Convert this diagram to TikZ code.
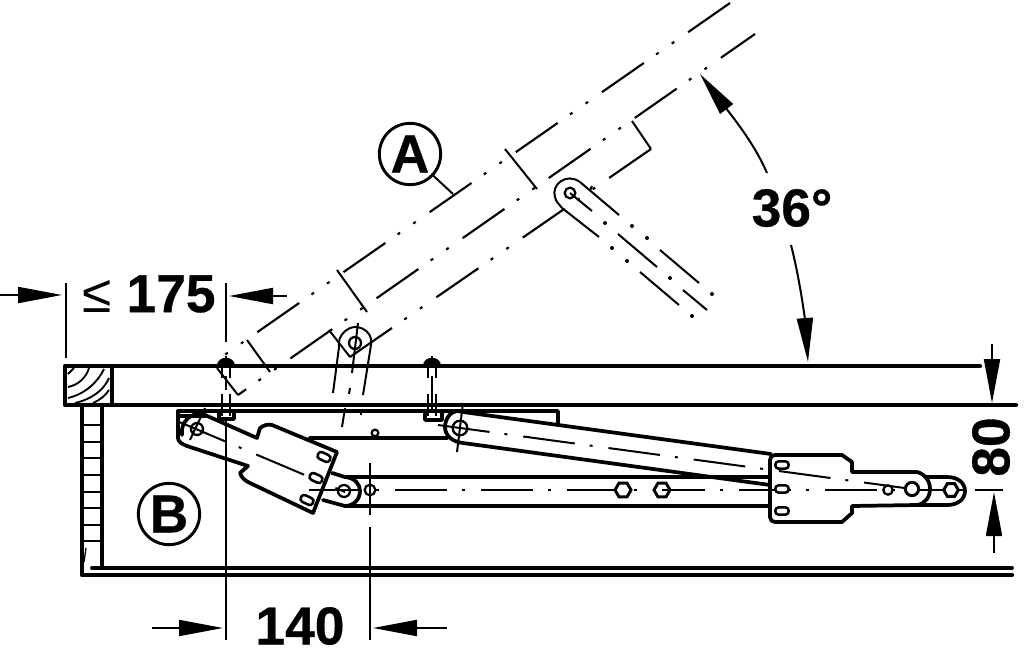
\documentclass[tikz,border=0pt]{standalone}
\usepackage{fontspec}
\setmainfont{Liberation Sans}[BoldFeatures={FakeBold=0.6}]
\usetikzlibrary{arrows.meta,shapes.geometric}

\tikzset{every picture/.style={line width=0.75pt},
  heavyline/.style={line width=3.2pt,line cap=round,line join=round},
  partline/.style={line width=2.8pt,line cap=round,line join=round},
  thinline/.style={line width=1.5pt},
  centerline/.style={line width=1.5pt,dash pattern=on 39pt off 11.25pt on 2.25pt off 12pt},
  phantomline/.style={line width=1.6pt,dash pattern=on 38.25pt off 11.25pt on 2.25pt off 12pt on 2.25pt off 12.75pt},
  dimarrow/.style={line width=1.5pt,-{Triangle[length=33pt,width=12pt]}},
  dimtext/.style={font=\fontsize{40}{40}\selectfont\bfseries,inner sep=0pt},
  letterring/.style={draw,circle,line width=2.2pt,minimum size=46pt,inner sep=0pt,font=\fontsize{40}{40}\selectfont\bfseries},
  hexnut/.style={draw,fill=white,regular polygon,regular polygon sides=6,line width=2.2pt,minimum size=12pt,inner sep=0pt},
  slothole/.style={draw,fill=white,rounded corners=2.5pt,line width=1.9pt,minimum width=10pt,minimum height=5.5pt,inner sep=0pt},
  pinhole/.style={draw,fill=white,circle,line width=1.7pt,inner sep=0pt},
  pivotring/.style={draw,circle,line width=1.7pt,inner sep=0pt}}

\begin{document}
\begin{tikzpicture}[x=0.75pt,y=0.75pt,yscale=-1,xscale=1]
\useasboundingbox (0,0) rectangle (1025,650);

%Shape: Table top
\draw [heavyline] (980,366) -- (65,366) -- (65,405) -- (1016,405) ;
\draw [heavyline] (112,366) -- (112,405) ;
%Wood section
\draw [line width=1.4pt] (68,374) .. controls (70,372) and (72,370) .. (74,368) ;
\draw [line width=1.4pt] (68,387) .. controls (78,385) and (86,378) .. (89,368) ;
\draw [line width=1.4pt] (68,398) .. controls (85,394) and (98,382) .. (104,369) ;
\draw [line width=1.4pt] (75,403) .. controls (92,399) and (104,390) .. (109,378) ;
\draw [line width=1.4pt] (93,403) .. controls (100,400) and (106,395) .. (109,390) ;

%Shape: Cabinet side and bottom
\draw [heavyline] (82,405) -- (82,575) -- (1012,575) ;
\draw [heavyline] (102,405) -- (102,566) ;
\draw [partline] (92,568) -- (1012,568) ;
%Straight Lines: ladder
\draw [thinline] (84,425) -- (101,425) ;
\draw [thinline] (84,442) -- (101,442) ;
\draw [thinline] (84,458) -- (101,458) ;
\draw [thinline] (84,475) -- (101,475) ;
\draw [thinline] (84,492) -- (101,492) ;
\draw [thinline] (84,508) -- (101,508) ;
\draw [thinline] (84,525) -- (101,525) ;
\draw [thinline] (84,541) -- (101,541) ;
\draw [line width=1pt] (86,548) -- (84,562) ;

%Shape: Mounting bracket
\draw [partline] (178,411) -- (558,411) -- (558,425) ;
\draw [partline] (178,411) -- (178,438) .. controls (178,442) and (182,444) .. (187,446) ;
\draw [partline] (180,416) -- (205,416) ;
\draw [partline] (310,438) -- (447,438) ;
\node [pinhole,minimum size=5pt] (bracketHole) at (375,433) {};

%Screws
\fill (217,366) .. controls (217,355) and (235,355) .. (235,366) -- cycle ;
\fill (423,366) .. controls (423,355) and (441,355) .. (441,366) -- cycle ;
\draw [thinline] (222,368) -- (222,378) (230,368) -- (230,378) ;
\draw [thinline] (428,368) -- (428,378) (436,368) -- (436,378) ;
\draw [thinline] (432,356) -- (432,360) (432,376) -- (432,412) ;
\draw [thinline] (226,356) -- (226,360) (226,376) -- (226,390) ;
\draw [thinline] (222,394) -- (222,416) (230,394) -- (230,416) ;
\draw [thinline] (428,394) -- (428,416) (436,394) -- (436,416) ;
\draw [partline] (219,413) -- (219,419) -- (234,419) -- (234,413) ;
\draw [partline] (425,413) -- (425,420) -- (442,420) -- (442,413) ;

%Panel lines, open position
\draw [phantomline,dash phase=38.25pt] (213,363) -- (730,3) ;
\draw [phantomline,dash phase=30.75pt] (238,395) -- (755,34) ;
\draw [phantomline] (350,357) -- (651,149) ;
\draw [thinline] (217,368) -- (238,395) ;
\draw [thinline] (329,330) -- (350,357) ;
\draw [thinline] (632,121) -- (651,149) ;
\draw [thinline] (247,340) -- (270,372) ;
\draw [thinline] (337,270) -- (367,312) ;
\draw [thinline] (505,149) -- (537,189) ;

%Fitting arm, open position
\draw [thinline] (339,347) .. controls (337,335) and (348,327) .. (355,327) .. controls (364,327) and (373,334) .. (371,345) ;
\draw [thinline] (339,347) -- (333,393) ;
\draw [thinline] (371,345) -- (363,395) ;
\draw [thinline] (358,323) -- (352,373) ;
\draw [thinline] (350,388) -- (349,394) ;
\draw [thinline] (345,408) -- (342,427) ;
\draw [thinline] (361,412) -- (361,415) ;
\node [pivotring,minimum size=9pt] (armEyeLow) at (355,343) {};
\draw [thinline] (580,182) -- (619,215) ;
\draw [thinline] (562,208) -- (599,237) ;
\draw [thinline] (580,182) .. controls (566,172) and (551,185) .. (555,197) .. controls (556,202) and (559,204) .. (562,208) ;
\draw [thinline] (570,193) -- (592,211) ;
\draw [thinline] (592,186) -- (590,190) ;
\node [pivotring,minimum size=8pt] (armEyeHigh) at (570,193) {};
\draw [thinline] (618,234) -- (657,267) ;
\draw [thinline] (660,250) -- (699,283) ;
\draw [thinline] (640,272) -- (679,305) ;
\draw [thinline] (683,290) -- (707,310) ;
\fill (605,223) circle (2) (632,226) circle (2) (647,238) circle (2) (612,248) circle (2) ;
\fill (627,261) circle (2) (670,278) circle (2) (712,294) circle (2) (692,316) circle (2) ;

%Lower bar
\draw [partline] (345,477) -- (770,477) ;
\draw [partline] (345,506) -- (770,506) ;
\draw [partline] (332,473) -- (345,477) .. controls (355,478) and (360,484) .. (360,491) .. controls (360,500) and (353,506) .. (345,506) -- (323,500) ;
\draw [partline] (925,477) -- (947,477) .. controls (958,477) and (965,483) .. (965,491) .. controls (965,499) and (958,505) .. (947,505) -- (918,505) ;
\draw [centerline] (309,490) -- (963,490) ;

%Upper arm
\draw [partline] (463,412) -- (771,454) ;
\draw [partline] (463,443) -- (770,485) ;
\draw [partline] (463,412) .. controls (452,408) and (445,418) .. (445,427) .. controls (445,436) and (453,442) .. (463,443) ;
\draw [centerline] (438,425) -- (912,489) ;
\draw [thinline] (463,403) -- (457,452) ;
\node [pivotring,minimum size=11pt] (armPivot) at (460,428) {};

%Shape: Left plate
\draw [partline] (205,415) -- (257,438) -- (260,428) .. controls (264,425) and (268,424) .. (272,425) -- (337,452) -- (313,513) -- (250,483) .. controls (245,481) and (241,477) .. (240,473) -- (248,466) -- (187,446) ;
\draw [partline] (205,415) .. controls (192,410) and (180,422) .. (182,435) ;
\draw [centerline] (177,421) -- (345,492) ;
\draw [thinline] (205,408) -- (190,440) ;
\node [pivotring,minimum size=9pt] (leftPivot) at (197,429) {};
\node [pivotring,minimum size=9pt] (linkPivot) at (344,491) {};
\node [slothole,rotate=-25] (slotA) at (324,457) {};
\node [slothole,rotate=-25] (slotB) at (316,478) {};
\node [slothole,rotate=-25] (slotC) at (307,500) {};

%Shape: Right plate
\draw [partline] (775,455) -- (842,455) -- (852,462) -- (852,472) -- (917,472) .. controls (925,474) and (930,481) .. (930,489) .. controls (930,497) and (925,504) .. (917,505) -- (852,506) -- (852,513) -- (842,522) -- (775,522) .. controls (772,522) and (770,520) .. (770,517) -- (770,460) .. controls (770,457) and (772,455) .. (775,455) -- cycle ;
\node [slothole] (slotD) at (782,465) {};
\node [slothole] (slotE) at (782,489) {};
\node [slothole] (slotF) at (782,511) {};
\node [pinhole,minimum size=7pt] (plateHole) at (888,490) {};
\node [pinhole,line width=2.2pt,minimum size=10pt] (platePivot) at (912,489) {};

%Nuts
\node [pinhole,minimum size=8pt] (barEye) at (370,490) {};
\node [hexnut] (nutA) at (623,490) {};
\node [hexnut] (nutB) at (662,490) {};
\node [hexnut,minimum size=11pt] (nutC) at (951,490) {};
\draw [thinline] (662,490) -- (705,490) ;

%Dimension lines
\coordinate (widthTop) at (66,283) ; \coordinate (widthEnd) at (66,358) ;
\coordinate (lineA) at (226,283) ; \coordinate (lineAEnd) at (226,342) ;
\coordinate (lineB) at (226,420) ; \coordinate (lineBEnd) at (226,640) ;
\coordinate (lineC) at (370,463) ; \coordinate (lineCEnd) at (370,515) ;
\coordinate (lineD) at (370,527) ; \coordinate (lineDEnd) at (370,640) ;
\draw [thinline] (widthTop) -- (widthEnd) ;
\draw [thinline] (lineA) -- (lineAEnd) ;
\draw [thinline] (lineB) -- (lineBEnd) ;
\draw [thinline] (lineC) -- (lineCEnd) ;
\draw [thinline] (lineD) -- (lineDEnd) ;
\coordinate (tickA) at (975,490) ; \coordinate (tickB) at (1003,490) ;
\draw [thinline] (tickA) -- (tickB) ;

%Dimension arrows
\coordinate (arrowA) at (0,295) ; \coordinate (arrowATip) at (62,295) ;
\coordinate (arrowB) at (287,296) ; \coordinate (arrowBTip) at (229,296) ;
\coordinate (arrowC) at (152,628) ; \coordinate (arrowCTip) at (223,628) ;
\coordinate (arrowD) at (447,628) ; \coordinate (arrowDTip) at (373,628) ;
\coordinate (arrowE) at (992,344) ; \coordinate (arrowETip) at (992,403) ;
\coordinate (arrowF) at (994,553) ; \coordinate (arrowFTip) at (994,492) ;
\draw [dimarrow] (arrowA) -- (arrowATip) ;
\draw [dimarrow] (arrowB) -- (arrowBTip) ;
\draw [dimarrow] (arrowC) -- (arrowCTip) ;
\draw [dimarrow] (arrowD) -- (arrowDTip) ;
\draw [dimarrow] (arrowE) -- (arrowETip) ;
\draw [dimarrow] (arrowF) -- (arrowFTip) ;

%Angle arrows
\coordinate (angleA) at (767,173) ; \coordinate (angleATip) at (700,74) ;
\coordinate (angleB) at (791,245) ; \coordinate (angleBTip) at (808,362) ;
\draw [dimarrow] (angleA) .. controls (755,145) and (735,120) .. (angleATip) ;
\draw [dimarrow] (angleB) .. controls (800,280) and (805,320) .. (angleBTip) ;

% Text Node
\node [dimtext] (width) at (149,294) {{\mdseries ≤} 175};
% Text Node
\node [dimtext] (reach) at (300,626) {140};
% Text Node
\node [dimtext,rotate=90] (height) at (991,447) {80};
% Text Node
\node [dimtext] (angle) at (792,208) {36°};
% Text Node
\node [letterring] (labelA) at (410,154) {A};
% Text Node
\node [letterring] (labelB) at (169,514) {B};

%Straight Lines: leader
\coordinate (leaderA) at (453,194) ;
\draw [thinline] (labelA) -- (leaderA) ;
\end{tikzpicture}
\end{document}
